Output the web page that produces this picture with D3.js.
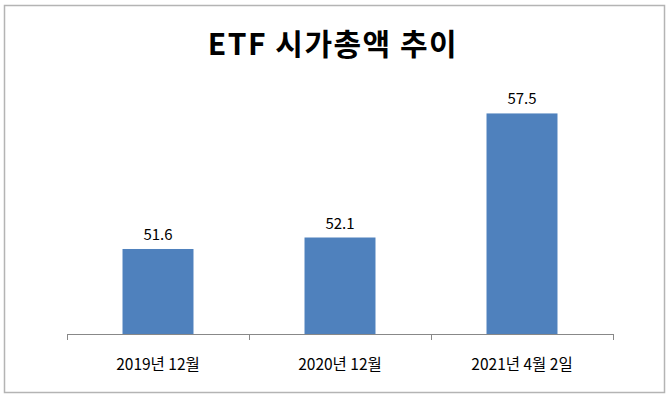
<!DOCTYPE html>
<html>
<head>
<meta charset="utf-8">
<script src="https://cdn.jsdelivr.net/npm/d3@7"></script>
<style>
  body { margin: 0; background: #fff; }
  text { font-family: "Noto Sans CJK KR", "Noto Sans", sans-serif; }
</style>
</head>
<body>
<div id="chart"></div>
<script>
// data
var categories = ["2019년 12월", "2020년 12월", "2021년 4월 2일"];
var values = [51.6, 52.1, 57.5];
var chartTitle = "ETF 시가총액 추이";

var width = 670, height = 398;
var margin = { top: 56, right: 57, bottom: 64, left: 67 };

var svg = d3.select("#chart").append("svg")
  .attr("width", width)
  .attr("height", height);

//outer frame
svg.append("rect")
  .attr("x", 4.5)
  .attr("y", 5.5)
  .attr("width", 660)
  .attr("height", 387)
  .attr("fill", "#fff")
  .attr("stroke", "#b4b4b4")
  .attr("stroke-width", 1.5);

//title
svg.append("text")
  .text(chartTitle)
  .attr("x", 333)
  .attr("y", 55)
  .style("text-anchor", "middle")
  .style("font-size", "30px")
  .style("letter-spacing", "1.5px")
  .style("font-weight", "bold")
  .style("fill", "#000");

var x = d3.scaleBand()
  .domain(categories)
  .range([margin.left, width - margin.right])
  .paddingInner(0.61)
  .paddingOuter(0.305);

var y = d3.scaleLinear()
  .domain([47.9, 60])
  .range([height - margin.bottom, margin.top]);

var baseY = height - margin.bottom;

//bars
svg.selectAll("rect.bar")
  .data(values)
  .enter().append("rect")
  .attr("class", "bar")
  .attr("x", function(d, i) { return x(categories[i]); })
  .attr("y", function(d) { return y(d); })
  .attr("width", x.bandwidth())
  .attr("height", function(d) { return baseY - y(d); })
  .attr("fill", "#4f81bd");

//value labels
svg.selectAll("text.val")
  .data(values)
  .enter().append("text")
  .attr("class", "val")
  .text(function(d) { return d.toFixed(1); })
  .attr("x", function(d, i) { return x(categories[i]) + x.bandwidth() / 2; })
  .attr("y", function(d) { return y(d) - 9; })
  .style("text-anchor", "middle")
  .style("font-size", "15px")
  .style("fill", "#000");

//x axis with ticks between categories
var axisG = svg.append("g")
  .attr("transform", "translate(0," + baseY + ")");
axisG.append("line")
  .attr("x1", margin.left)
  .attr("x2", width - margin.right)
  .attr("y1", 0.5)
  .attr("y2", 0.5)
  .attr("stroke", "#888");
var tickXs = d3.range(categories.length + 1).map(function(i) {
  return margin.left + i * (width - margin.left - margin.right) / categories.length;
});
axisG.selectAll("line.tick")
  .data(tickXs)
  .enter().append("line")
  .attr("class", "tick")
  .attr("x1", function(d) { return Math.round(d) + 0.5; })
  .attr("x2", function(d) { return Math.round(d) + 0.5; })
  .attr("y1", 0)
  .attr("y2", 6)
  .attr("stroke", "#888");
axisG.selectAll("text.cat")
  .data(categories)
  .enter().append("text")
  .attr("class", "cat")
  .text(function(d) { return d; })
  .attr("x", function(d) { return x(d) + x.bandwidth() / 2; })
  .attr("y", 36)
  .style("text-anchor", "middle")
  .style("font-size", "15.5px")
  .style("fill", "#000");
</script>
</body>
</html>
